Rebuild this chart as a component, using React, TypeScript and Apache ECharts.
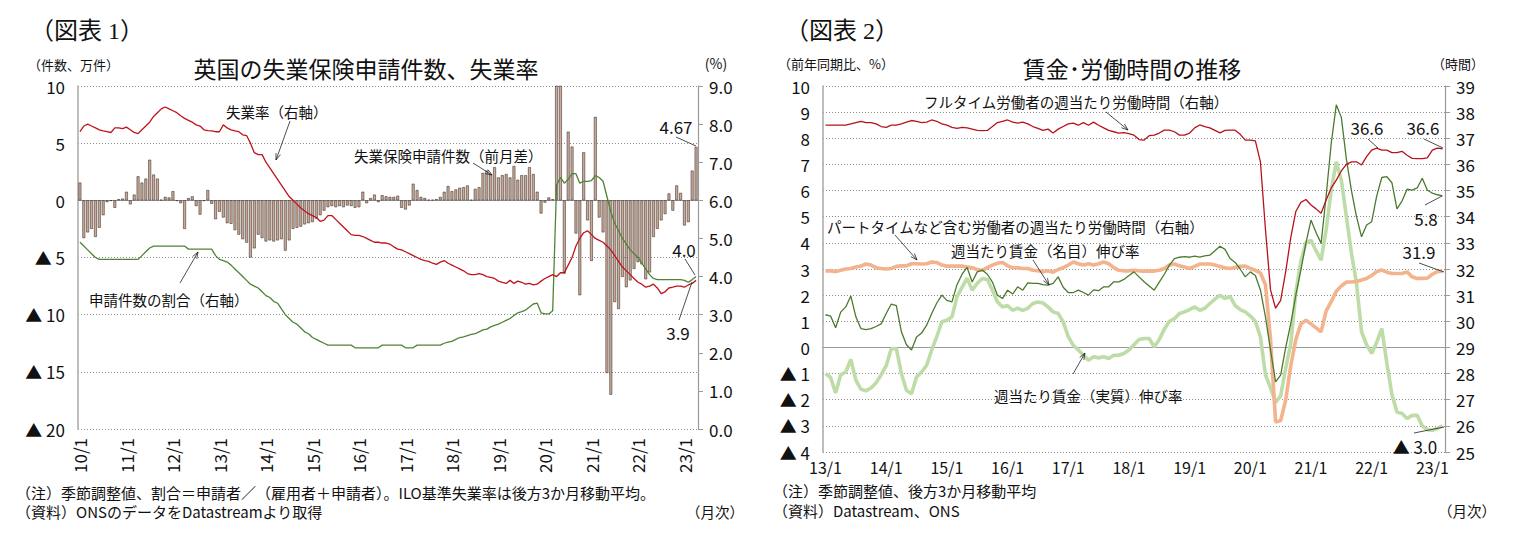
import * as echarts from "echarts";
import { useEffect, useRef } from "react";

// ---- data: chart 1 (2010/1 - 2023/4, monthly) ----
const claimStart = [2010, 1];
const claimCount = 160;

// claimant count, change on previous month (10k)
const claimChange = [
  1.55, -3.3, -2.8, -2.5, -3.2, -2.4, -1.3, -0.15, -0.05, -0.65, 0.1, 0.15,
  0.75, -0.35, 0.5, 2.1, 1.55, 1.9, 3.55, 2.25, 1.9, 0.05, 0.3, 0.25,
  0.8, -0.05, -0.25, -2.5, 0.2, 0.35, -0.5, -1.25, -0.05, 0.9, -0.3, -1.65,
  -1.0, -1.5, -2.0, -2.05, -2.6, -3.0, -3.4, -3.7, -5.0, -4.2, -3.0, -3.3,
  -3.6, -3.5, -3.6, -3.5, -3.4, -4.4, -3.5, -2.5, -2.4, -2.3, -2.1, -2.0,
  -1.9, -1.6, -1.3, -0.9, -0.6, -0.5, -0.6, -0.5, -0.6, -0.45, -0.5, -0.65,
  -0.6, 0.75, -0.25, 0.2, 0.5, -0.15, 0.45, 0.35, 0.3, 0.3, 0.4, -0.65,
  -0.8, -0.45, 1.45, 0.9, 0.3, 0.2, 0.05, 0.05, 0.1, 0.3, 0.75, 1.25,
  0.8, 0.95, 1.1, 1.15, 1.3, 0.05, 1.0, 1.15, 2.4, 2.6, 2.3, 2.9,
  2.0, 2.2, 2.3, 2.0, 3.0, 1.8, 2.2, 2.2, 2.9, 2.3, 0.75, -1.15,
  -0.2, 0.25, 0.1, 85.6, 52.8, -6.4, 6.0, 4.7, -2.9, -8.3, 4.2, -1.75,
  -5.3, 7.3, -1.5, -2.8, -15.1, -17.0, -8.9, -9.5, -6.7, -7.6, -7.0, -6.0,
  -5.4, -5.6, -6.9, -6.3, -3.2, -2.5, -1.75, -1.2, 0.6, -0.9, 1.3, 0.65,
  -2.2, -1.9, 2.6, 4.67,
];

// ILO unemployment rate (%)
const unempRate = [
  7.8, 7.95, 8.0, 7.95, 7.9, 7.85, 7.82, 7.8, 7.78, 7.9, 7.9, 7.88,
  7.92, 7.85, 7.78, 7.75, 7.85, 7.95, 8.05, 8.2, 8.3, 8.4, 8.45, 8.4,
  8.35, 8.3, 8.22, 8.15, 8.1, 8.05, 7.98, 7.95, 7.85, 7.83, 7.82, 7.8,
  7.8, 7.98, 7.9, 7.85, 7.82, 7.8, 7.72, 7.7, 7.5, 7.25, 7.2, 7.2,
  7.0, 6.85, 6.7, 6.55, 6.4, 6.25, 6.1, 6.0, 5.9, 5.8, 5.72, 5.65,
  5.6, 5.55, 5.45, 5.48, 5.6, 5.6, 5.5, 5.4, 5.3, 5.2, 5.1, 5.08,
  5.08, 5.05, 5.0, 4.95, 4.9, 4.9, 4.88, 4.88, 4.85, 4.78, 4.72, 4.7,
  4.65, 4.6, 4.55, 4.5, 4.45, 4.42, 4.4, 4.35, 4.32, 4.38, 4.42, 4.35,
  4.3, 4.25, 4.2, 4.15, 4.08, 4.05, 4.05, 4.08, 4.05, 4.0, 3.98, 3.95,
  3.88, 3.85, 3.82, 3.9, 3.82, 3.88, 3.85, 3.8, 3.82, 3.78, 3.8, 3.88,
  3.95, 4.0, 4.05, 4.0, 4.1, 4.1, 4.3, 4.5, 4.8, 5.0, 5.15, 5.2,
  5.1, 5.0, 4.95, 4.9, 4.8, 4.7, 4.55, 4.4, 4.25, 4.15, 4.05, 3.95,
  3.85, 3.8, 3.72, 3.75, 3.8, 3.7, 3.55, 3.6, 3.7, 3.72, 3.75, 3.75,
  3.72, 3.78, 3.82, 3.9,
];

// claimants / (employees + claimants) (%)
const claimShare = [
  4.9, 4.8, 4.7, 4.6, 4.5, 4.45, 4.45, 4.45, 4.45, 4.45, 4.45, 4.45,
  4.45, 4.45, 4.45, 4.45, 4.55, 4.65, 4.75, 4.8, 4.8, 4.8, 4.8, 4.8,
  4.8, 4.8, 4.8, 4.8, 4.72, 4.72, 4.72, 4.72, 4.72, 4.72, 4.72, 4.55,
  4.45, 4.42, 4.38, 4.3, 4.2, 4.1, 4.0, 3.9, 3.8, 3.75, 3.7, 3.6,
  3.5, 3.45, 3.35, 3.3, 3.15, 3.0, 2.9, 2.8, 2.75, 2.65, 2.55, 2.5,
  2.4, 2.35, 2.3, 2.25, 2.2, 2.2, 2.2, 2.2, 2.2, 2.2, 2.2, 2.13,
  2.13, 2.13, 2.13, 2.13, 2.13, 2.13, 2.2, 2.2, 2.2, 2.2, 2.2, 2.2,
  2.13, 2.13, 2.13, 2.2, 2.2, 2.2, 2.2, 2.2, 2.2, 2.2, 2.25, 2.28,
  2.3, 2.35, 2.4, 2.42, 2.45, 2.48, 2.5, 2.55, 2.6, 2.62, 2.68, 2.72,
  2.75, 2.8, 2.85, 2.9, 2.98, 3.05, 3.08, 3.12, 3.2, 3.28, 3.3, 3.05,
  3.02, 3.02, 3.1, 6.4, 6.6, 6.45, 6.55, 6.7, 6.7, 6.45, 6.5, 6.5,
  6.52, 6.65, 6.6, 6.5, 6.1, 5.7, 5.4, 5.2, 5.0, 4.85, 4.7, 4.6,
  4.5, 4.35, 4.2, 4.05, 3.95, 3.92, 3.92, 3.92, 3.92, 3.92, 3.92, 3.92,
  3.9, 3.85, 3.92, 4.0,
];

// ---- data: chart 2 (2013/1 - 2023/3, monthly) ----
const wageStart = [2013, 1];
const wageCount = 123;

// full-time weekly hours (right axis)
const fullTimeHours = [
  37.5, 37.5, 37.5, 37.5, 37.5, 37.55, 37.6, 37.65, 37.6, 37.6, 37.55, 37.45,
  37.42, 37.5, 37.5, 37.55, 37.62, 37.68, 37.65, 37.6, 37.62, 37.7, 37.65, 37.55,
  37.5, 37.42, 37.38, 37.42, 37.4, 37.35, 37.3, 37.29, 37.3, 37.45, 37.6, 37.65,
  37.7, 37.62, 37.58, 37.62, 37.55, 37.45, 37.38, 37.3, 37.35, 37.2, 37.35, 37.45,
  37.55, 37.58, 37.5, 37.6, 37.5, 37.62, 37.5, 37.4, 37.3, 37.25, 37.2, 37.22,
  37.18, 37.12, 36.95, 36.93, 37.1, 37.12, 37.2, 37.31, 37.31, 37.25, 37.12, 37.12,
  37.2, 37.4, 37.51, 37.45, 37.4, 37.3, 37.21, 37.3, 37.31, 37.31, 37.15, 36.93,
  36.93, 36.9, 36.1, 33.5, 31.2, 30.5, 30.8, 31.9, 33.2, 34.2, 34.55, 34.66,
  34.45, 34.3, 34.13, 34.64, 35.1, 35.4, 35.75, 36.0, 36.1, 36.1, 35.98, 36.3,
  36.55, 36.62, 36.55, 36.55, 36.45, 36.45, 36.5, 36.35, 36.23, 36.22, 36.22, 36.25,
  36.55, 36.62, 36.6,
];

// weekly hours incl. part-time (right axis)
const allHours = [
  31.93, 31.93, 31.9, 31.95, 32.0, 32.02, 32.08, 32.11, 32.19, 32.15, 32.05, 32.02,
  32.0, 32.02, 32.1, 32.12, 32.12, 32.2, 32.2, 32.19, 32.2, 32.27, 32.25, 32.15,
  32.11, 32.11, 32.11, 32.11, 32.08, 32.05, 31.98, 31.95, 32.05, 32.15, 32.22, 32.25,
  32.12, 32.05, 32.05, 32.02, 32.02, 31.95, 31.93, 31.9, 31.93, 31.88, 31.98, 32.05,
  32.15, 32.27, 32.2, 32.15, 32.2, 32.15, 32.2, 32.27, 32.2, 32.05, 31.95, 31.93,
  31.93, 31.95, 31.93, 31.92, 31.92, 31.92, 31.95, 32.02, 32.15, 32.19, 32.12, 32.08,
  32.02, 32.1, 32.19, 32.19, 32.19, 32.15, 32.1, 32.05, 32.02, 32.06, 32.1, 32.11,
  32.02, 31.95, 31.85, 31.4, 29.3, 26.15, 26.2, 27.0, 28.3, 29.3, 29.9, 30.04,
  29.9, 29.75, 29.6, 30.4, 30.75, 31.15, 31.35, 31.5, 31.5, 31.52, 31.58, 31.64,
  31.75, 31.9, 31.96, 31.88, 31.83, 31.83, 31.83, 31.89, 31.7, 31.64, 31.64, 31.65,
  31.8, 31.9, 31.92,
];

// weekly pay growth, nominal (%)
const nominalWage = [
  1.25, 1.2, 0.75, 1.35, 1.55, 1.97, 1.17, 0.72, 0.68, 0.72, 0.8, 0.9,
  1.3, 1.66, 1.6, 0.6, 0.1, -0.1, 0.4, 0.55, 0.85, 1.3, 1.7, 2.0,
  1.8, 1.74, 2.4, 2.8, 3.06, 2.5, 2.89, 2.96, 2.8, 2.5, 2.0, 1.87,
  2.19, 2.04, 2.32, 2.19, 2.47, 2.45, 2.45, 2.4, 2.38, 2.45, 2.7, 2.3,
  2.1, 2.1, 2.19, 2.1, 2.0, 2.2, 2.17, 2.32, 2.32, 2.51, 2.51, 2.6,
  2.75, 2.89, 2.7, 2.51, 2.35, 2.19, 2.5, 2.8, 3.15, 3.4, 3.45, 3.47,
  3.45, 3.49, 3.45, 3.5, 3.53, 3.7, 3.87, 3.75, 3.4, 3.25, 3.0, 2.7,
  2.89, 2.75, 2.2, 1.17, -0.1, -1.32, -1.06, 0.0, 0.91, 2.0, 2.96, 4.0,
  4.87, 4.4, 3.98, 5.8, 7.8, 9.28, 8.8, 7.2, 6.0, 5.0, 4.23, 4.68,
  4.81, 5.8, 6.5, 6.53, 6.3, 5.3, 5.6, 6.05, 6.02, 6.1, 6.47, 6.02,
  5.9, 5.84, 5.8,
];

// weekly pay growth, real (%)
const realWage = [
  -1.0, -1.15, -1.74, -1.05, -0.94, -0.46, -1.25, -1.6, -1.66, -1.55, -1.35, -1.05,
  -0.7, -0.05, -0.04, -1.0, -1.64, -1.77, -1.13, -0.94, -0.68, -0.1, 0.41, 0.98,
  1.04, 1.17, 1.94, 2.3, 2.65, 2.19, 2.45, 2.64, 2.6, 2.19, 1.74, 1.55,
  1.6, 1.42, 1.5, 1.42, 1.5, 1.68, 1.74, 1.7, 1.55, 1.36, 1.3, 0.98,
  0.41, 0.08, -0.1, -0.3, -0.49, -0.36, -0.4, -0.36, -0.42, -0.3, -0.3, -0.23,
  -0.1, 0.1, 0.3, 0.34, 0.34, 0.02, 0.3, 0.7, 1.0, 1.1, 1.3, 1.36,
  1.45, 1.55, 1.42, 1.5, 1.68, 1.85, 2.0, 1.87, 1.95, 1.6, 1.45, 1.36,
  1.2, 1.0, 0.4, -1.05, -1.55, -2.1, -1.85, -0.8, 0.15, 2.1, 3.3, 4.0,
  4.1, 3.7, 3.34, 4.5, 6.0, 7.1, 6.4, 5.0, 3.6, 2.45, 0.6, 0.1,
  -0.23, 0.2, 0.72, -0.6, -1.8, -2.47, -2.53, -2.72, -2.6, -2.6, -3.0, -3.15,
  -3.17, -3.1, -3.0,
];

const FONT = "'Noto Sans CJK JP', 'Noto Sans', sans-serif";
const SERIF = "'Liberation Serif', 'Noto Sans CJK JP', serif";
const INK = "#111";
const AXIS = "#9a9a9a";

const months = (start: number[], n: number) => {
  const out: string[] = [];
  for (let k = 0; k < n; k++) {
    const m = start[0] * 12 + start[1] - 1 + k;
    out.push(`${String(Math.floor(m / 12) % 100).padStart(2, "0")}/${(m % 12) + 1}`);
  }
  return out;
};

const claimMonths = months(claimStart, claimCount);
const wageMonths = months(wageStart, wageCount);

const jan = (i: number) => i % 12 === 0;
const tri = (v: number) => (v < 0 ? `▲ ${-v}` : String(v));

const txt = (text: string, x: number, y: number, size = 14, align = "left", family = FONT) => ({
  type: "text",
  x,
  y,
  z: 100,
  silent: true,
  style: {
    text,
    fill: INK,
    fontSize: size,
    fontFamily: family,
    textAlign: align,
    align,
    textVerticalAlign: "middle",
    verticalAlign: "middle",
  },
});

const seg = (x1: number, y1: number, x2: number, y2: number) => ({
  type: "line",
  z: 100,
  silent: true,
  shape: { x1, y1, x2, y2 },
  style: { stroke: "#222", lineWidth: 0.8 },
});

const arrow = (x1: number, y1: number, x2: number, y2: number) => {
  const a = Math.atan2(y2 - y1, x2 - x1);
  const p = (d: number) => [x2 - 7 * Math.cos(a + d), y2 - 7 * Math.sin(a + d)];
  return [
    seg(x1, y1, x2, y2),
    {
      type: "polyline",
      z: 100,
      silent: true,
      shape: { points: [p(0.35), [x2, y2], p(-0.35)] },
      style: { stroke: "#222", fill: null, lineWidth: 0.8 },
    },
  ];
};

const zeroAxis = (gridIndex: number, data: string[]) => ({
  gridIndex,
  type: "category",
  data,
  position: "bottom",
  boundaryGap: true,
  axisLine: { onZero: true, lineStyle: { color: AXIS, width: 1.2 } },
  axisTick: { interval: jan, length: 5, lineStyle: { color: AXIS } },
  axisLabel: { show: false },
  splitLine: { show: false },
});

const labelAxis = (gridIndex: number, data: string[], rotate: number) => ({
  gridIndex,
  type: "category",
  data,
  position: "bottom",
  boundaryGap: true,
  axisLine: { show: false, onZero: false },
  axisTick: { show: false },
  axisLabel: { interval: jan, rotate, margin: rotate ? 9 : 7, fontSize: rotate ? 17 : 16, color: INK, fontFamily: FONT },
  splitLine: { show: false },
});

const leftAxis = (gridIndex: number, min: number, max: number, interval: number) => ({
  gridIndex,
  type: "value",
  position: "left",
  min,
  max,
  interval,
  axisLine: { show: true, lineStyle: { color: "#a8a8a8", width: 1.5 } },
  axisTick: { show: false },
  splitLine: { lineStyle: { type: [1, 2], color: "#8c8c8c", width: 1 } },
  axisLabel: { formatter: tri, fontSize: 17, margin: 13, color: INK, fontFamily: FONT },
});

const rightAxis = (gridIndex: number, min: number, max: number, digits: number) => ({
  gridIndex,
  type: "value",
  position: "right",
  min,
  max,
  interval: 1,
  axisLine: { show: true, lineStyle: { color: AXIS, width: 1.2 } },
  axisTick: { show: true, length: 5, lineStyle: { color: AXIS } },
  splitLine: { show: false },
  axisLabel: {
    formatter: (v: number) => v.toFixed(digits),
    fontSize: 17,
    margin: 11,
    color: INK,
    fontFamily: FONT,
  },
});

const line = (name: string, data: number[], x: number, y: number, color: string, width: number) => ({
  name,
  type: "line",
  xAxisIndex: x,
  yAxisIndex: y,
  data,
  symbol: "none",
  lineStyle: { color, width },
  itemStyle: { color },
});

const App = () => {
  const chartRef = useRef<HTMLDivElement>(null);

  useEffect(() => {
    if (!chartRef.current) return;
    document.body.style.margin = "0";
    const chart = echarts.init(chartRef.current, null, { renderer: "svg" });

    const graphic = [
      // chart 1
      txt("（図表 1）", 30, 31, 24, "left", SERIF),
      txt("（件数、万件）", 28, 64, 13),
      txt("英国の失業保険申請件数、失業率", 366, 68, 23, "center"),
      txt("(%)", 716, 63, 14, "center"),
      txt("失業率（右軸）", 226, 111, 14.5),
      ...arrow(290, 121, 276, 160),
      txt("失業保険申請件数（前月差）", 354, 155, 14.5),
      ...arrow(473, 163, 492, 175),
      txt("申請件数の割合（右軸）", 89, 299, 14.5),
      ...arrow(180, 283, 198, 252),
      txt("4.67", 676, 126, 17, "center"),
      seg(676, 137, 696, 146),
      txt("4.0", 684, 249, 17, "center"),
      seg(685, 259, 695, 275),
      txt("3.9", 678, 332, 17, "center"),
      seg(679, 320, 692, 282),
      txt("（注）季節調整値、割合＝申請者／（雇用者＋申請者）。ILO基準失業率は後方3か月移動平均。", 16, 492, 15),
      txt("（資料）ONSのデータをDatastreamより取得", 16, 511, 15),
      txt("（月次）", 686, 511, 14.5),
      // chart 2
      txt("（図表 2）", 785, 31, 24, "left", SERIF),
      txt("（前年同期比、%）", 778, 63, 13),
      txt("賃金･労働時間の推移", 1132, 68, 23, "center"),
      txt("（時間）", 1432, 63, 13),
      txt("フルタイム労働者の週当たり労働時間（右軸）", 924, 101, 14.5),
      ...arrow(1106, 112, 1128, 130),
      txt("パートタイムなど含む労働者の週当たり労働時間（右軸）", 827, 226, 14.5),
      ...arrow(895, 235, 917, 260),
      txt("週当たり賃金（名目）伸び率", 951, 250, 14.5),
      ...arrow(1033, 260, 1049, 285),
      txt("週当たり賃金（実質）伸び率", 994, 395, 14.5),
      ...arrow(1073, 374, 1085, 353),
      txt("36.6", 1367, 127, 17, "center"),
      seg(1368, 139, 1378, 148),
      txt("36.6", 1423, 127, 17, "center"),
      seg(1424, 139, 1443, 148),
      txt("5.8", 1426, 218, 17, "center"),
      seg(1425, 205, 1442, 196),
      txt("31.9", 1419, 251, 17, "center"),
      seg(1419, 263, 1444, 272),
      txt("▲ 3.0", 1415, 446, 17, "center"),
      seg(1414, 433, 1444, 427),
      txt("（注）季節調整値、後方3か月移動平均", 773, 490, 15),
      txt("（資料）Datastream、ONS", 773, 510, 15),
      txt("（月次）", 1438, 510, 14.5),
    ];

    chart.setOption({
      animation: false,
      textStyle: { fontFamily: FONT },
      grid: [
        { left: 78, top: 86, width: 620, height: 343 },
        { left: 823, top: 86, width: 622, height: 366 },
      ],
      xAxis: [
        zeroAxis(0, claimMonths),
        labelAxis(0, claimMonths, 90),
        zeroAxis(1, wageMonths),
        labelAxis(1, wageMonths, 0),
      ],
      yAxis: [
        leftAxis(0, -20, 10, 5),
        rightAxis(0, 0, 9, 1),
        leftAxis(1, -4, 10, 1),
        rightAxis(1, 25, 39, 0),
      ],
      series: [
        {
          name: "失業保険申請件数（前月差）",
          type: "bar",
          xAxisIndex: 0,
          yAxisIndex: 0,
          data: claimChange,
          barWidth: 2.8,
          clip: true,
          itemStyle: { color: "#c9aa9b", borderColor: "#2a1c14", borderWidth: 0.5 },
        },
        line("申請件数の割合", claimShare, 0, 1, "#4f8436", 1.3),
        line("失業率", unempRate, 0, 1, "#c0141c", 1.3),
        line("週当たり賃金（実質）伸び率", realWage, 2, 2, "#bddca7", 3.6),
        line("パートタイムなど含む労働者の週当たり労働時間", allHours, 2, 3, "#f2b38d", 3.6),
        line("週当たり賃金（名目）伸び率", nominalWage, 2, 2, "#4b7a2e", 1.3),
        line("フルタイム労働者の週当たり労働時間", fullTimeHours, 2, 3, "#b8121c", 1.3),
      ],
      graphic,
    });

    return () => {
      chart.dispose();
    };
  }, []);

  return <div ref={chartRef} style={{ width: "1514px", height: "542px" }} />;
};

export default App;
